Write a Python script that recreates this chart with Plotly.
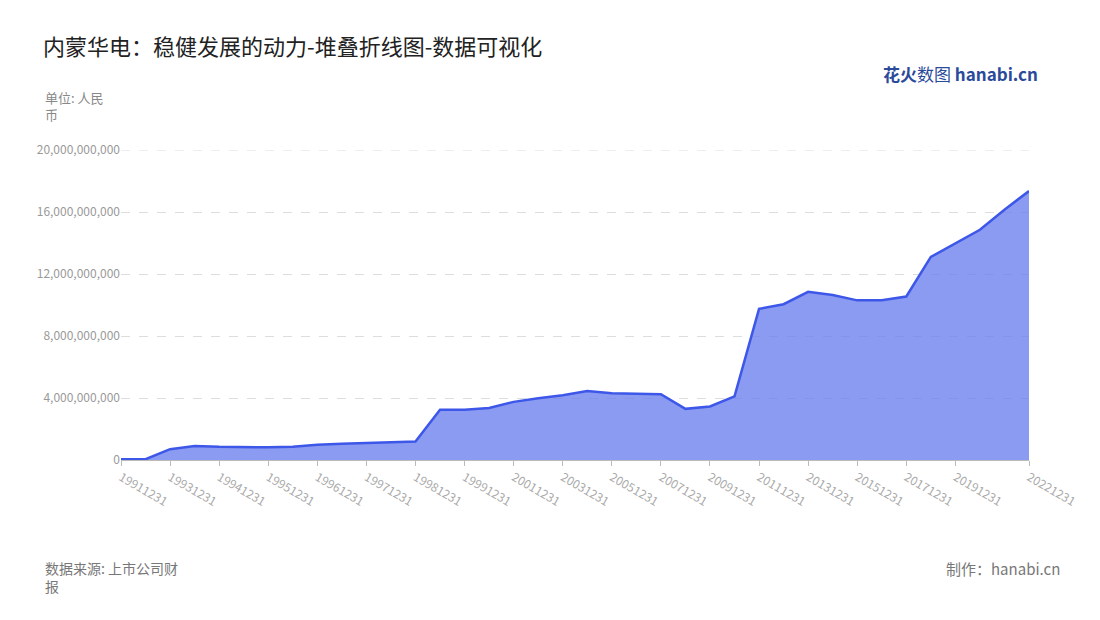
import plotly.graph_objects as go

dates = ["19911231","19921231","19931231","19940630","19941231","19950630","19951231","19960630",
         "19961231","19970630","19971231","19980630","19981231","19990630","19991231","20001231",
         "20011231","20021231","20031231","20041231","20051231","20061231","20071231","20081231",
         "20091231","20101231","20111231","20121231","20131231","20141231","20151231","20161231",
         "20171231","20181231","20191231","20201231","20211231","20221231"]
values_b = [0.05,0.05,0.7,0.9,0.85,0.82,0.82,0.85,0.98,1.05,1.1,1.18,1.2,3.25,3.25,3.35,
            3.75,3.98,4.18,4.45,4.3,4.27,4.25,3.3,3.45,4.1,9.75,10.05,10.85,10.65,10.3,10.3,
            10.55,13.1,13.95,14.85,16.15,17.35]
values = [v*1e9 for v in values_b]
yticks = [0,4e9,8e9,12e9,16e9,20e9]
ytext = ["0","4,000,000,000","8,000,000,000","12,000,000,000","16,000,000,000","20,000,000,000"]
xticks = dates[0:1]+dates[2:35:2]+[dates[-1]]

OX, OY = 8, 8  # page offset
fig = go.Figure(go.Scatter(x=dates, y=values, mode="lines", fill="tozeroy",
    line=dict(color="#3d57e8", width=2.5), fillcolor="rgba(110,130,238,0.8)"))
font = "Noto Sans CJK SC"
fig.update_layout(width=1100, height=620, plot_bgcolor="white", paper_bgcolor="white",
    margin=dict(l=121-OX, r=79, t=150-OY, b=168), showlegend=False,
    font=dict(family=font, color="#999"),
    title=dict(text="内蒙华电：稳健发展的动力-堆叠折线图-数据可视化", x=(43-OX)/1100, y=1-(40-OY)/620,
               xanchor="left", yanchor="top",
               font=dict(size=22, color="#222", family=font)))
fig.update_xaxes(type="category", tickmode="array", tickvals=xticks, ticktext=xticks,
    tickangle=30, range=[0, len(dates)-1], showgrid=False, showline=True, linecolor="#bbb",
    ticks="outside", tickcolor="#bbb", ticklen=5, tickfont=dict(size=12, color="#aaa"))
fig.update_yaxes(range=[0,20e9], tickvals=yticks, ticktext=ytext, showgrid=True,
    gridcolor="#ddd", griddash="dash", zeroline=False, showline=False, ticks="",
    tickfont=dict(size=12, color="#999"))
fig.add_shape(type="line", xref="paper", x0=0, x1=1, yref="y", y0=yticks[-1], y1=yticks[-1],
    line=dict(color="#ddd", width=1, dash="dash"), layer="below")
def add(text, px, py, size, color, xanchor="left"):
    fig.add_annotation(text=text, xref="paper", yref="paper",
        x=(px-121)/908, y=(460-py)/310, showarrow=False, align="left",
        xanchor=xanchor, yanchor="top", font=dict(size=size, color=color, family=font))
add("单位: 人民<br>币", 43, 86, 13, "#888")
add("数据来源: 上市公司财<br>报", 43, 556, 14, "#777")
add("制作：hanabi.cn", 1062, 556, 15, "#777", xanchor="right")
add("<b>花火</b>数图 <b>hanabi.cn</b>", 1040, 59, 17, "#2a4a9a", xanchor="right")
fig.write_html("out.html")
